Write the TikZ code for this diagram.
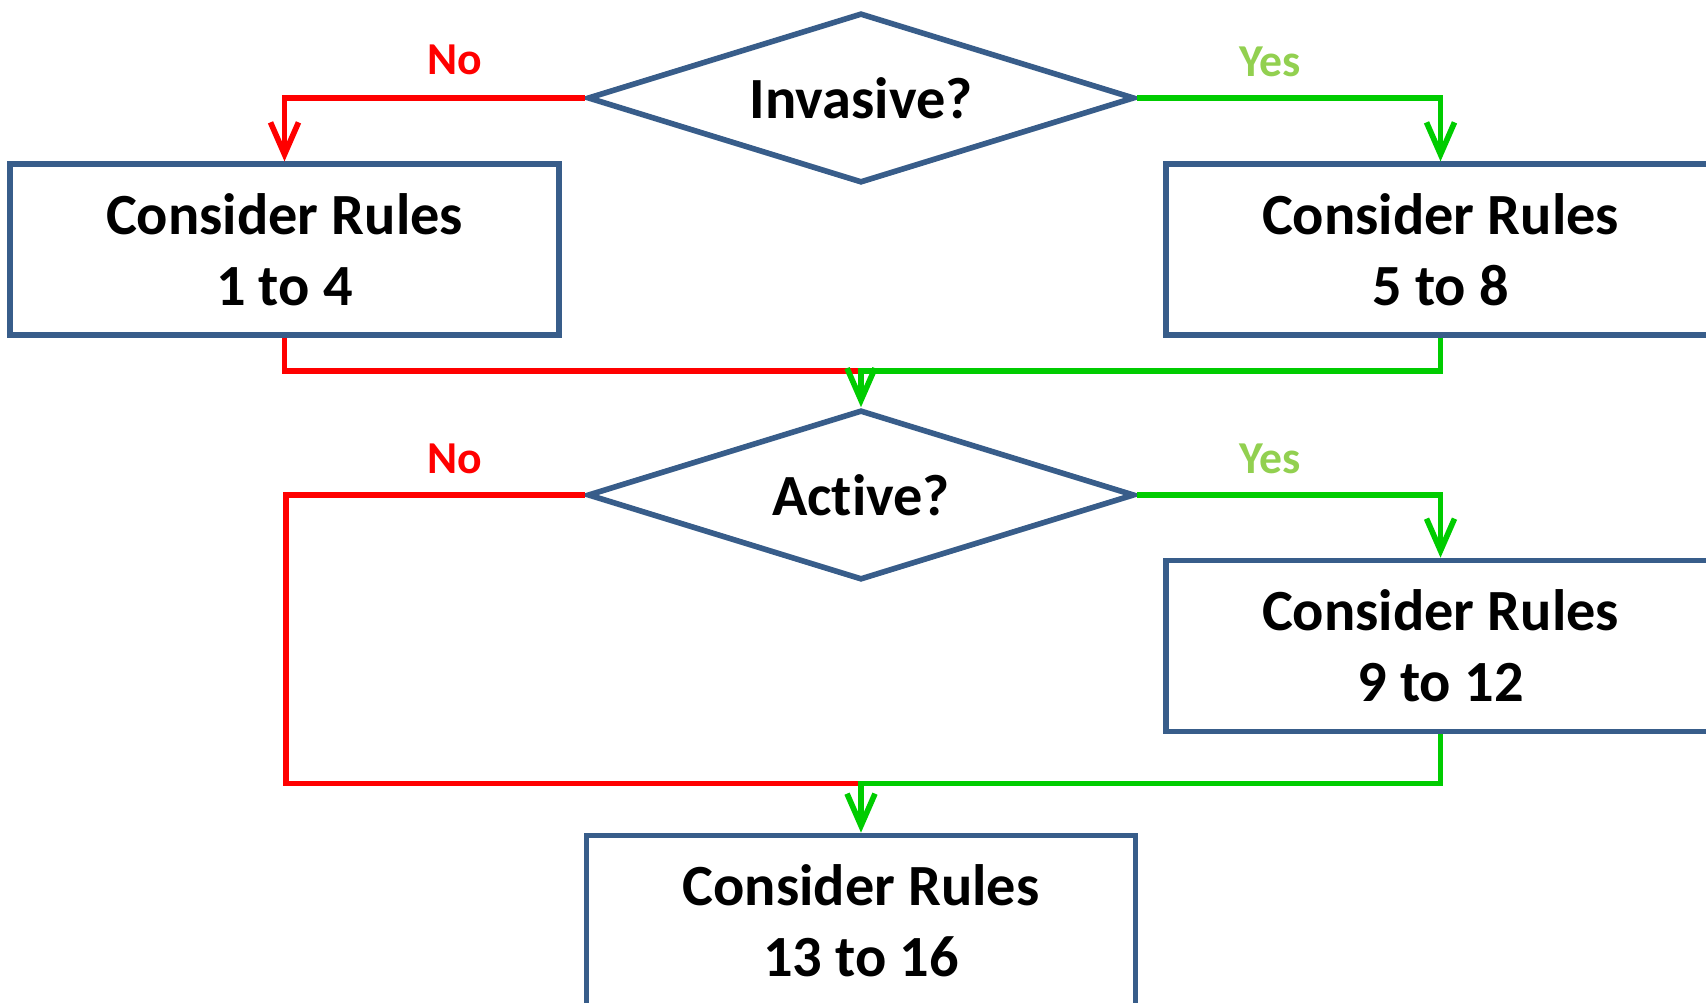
\documentclass[tikz,border=0pt]{standalone}
\usepackage{fontspec}
\setmainfont{Carlito}[Ligatures=NoCommon]
\usetikzlibrary{shapes.geometric,arrows.meta}
\definecolor{boxblue}{RGB}{56,93,138}
\definecolor{nored}{RGB}{255,0,0}
\definecolor{yesgreen}{RGB}{0,204,0}
\definecolor{yeslabel}{RGB}{146,208,80}
\tikzset{
  rulebox/.style={draw=boxblue,line width=1.6pt,fill=white,
    minimum width=5.49cm,minimum height=1.71cm,align=center,
    font=\fontsize{16.6}{20.2}\selectfont\bfseries},
  question/.style={diamond,aspect=3.2,draw=boxblue,line width=1.6pt,
    inner sep=0pt,minimum width=5.47cm,minimum height=1.70cm,
    font=\fontsize{16.6}{20.2}\selectfont\bfseries},
  no path/.style={draw=nored,line width=1.6pt},
  yes path/.style={draw=yesgreen,line width=1.6pt},
  down arrow/.style={-{Straight Barb[length=3.2mm,width=2.8mm,line width=1.6pt]}},
  no label/.style={text=nored,font=\fontsize{13}{15}\selectfont\bfseries},
  yes label/.style={text=yeslabel,font=\fontsize{13}{15}\selectfont\bfseries},
}

\begin{document}
\begin{tikzpicture}
            \clip (0,0) rectangle (17.06,-10.03);

            % Decisions
            \node[question] (inv) at (8.61,-0.98) {Invasive?};
            \node[question] (act) at (8.61,-4.95) {Active?};

            % Rules
            \node[rulebox] (r1) at (2.845,-2.497) {Consider Rules\\1 to 4};
            \node[rulebox] (r2) at (14.405,-2.497) {Consider Rules\\5 to 8};
            \node[rulebox] (r3) at (14.405,-6.46) {Consider Rules\\9 to 12};
            \node[rulebox] (r4) at (8.61,-9.21) {Consider Rules\\13 to 16};

            % Merge points
            \coordinate (m1) at (8.61,-3.71);
            \coordinate (m2) at (8.61,-7.834);
            \coordinate (bend) at (2.86,-7.834);

            % Invasive
            \draw[no path,down arrow] (inv.west) -| (r1.north);
            \draw[yes path,down arrow] (inv.east) -| (r2.north);
            \draw[no path] (r1.south) |- (m1);
            \draw[yes path,down arrow] (r2.south) |- (m1) -- (act.north);

            % Active
            \draw[no path] (act.west) -| (bend) -- (m2);
            \draw[yes path,down arrow] (act.east) -| (r3.north);
            \draw[yes path,down arrow] (r3.south) |- (m2) -- (r4.north);

            % Labels
            \node[no label] (no1) at (4.55,-0.60) {No};
            \node[yes label] (yes1) at (12.70,-0.62) {Yes};
            \node[no label] (no2) at (4.55,-4.59) {No};
            \node[yes label] (yes2) at (12.70,-4.59) {Yes};
\end{tikzpicture}
\end{document}
